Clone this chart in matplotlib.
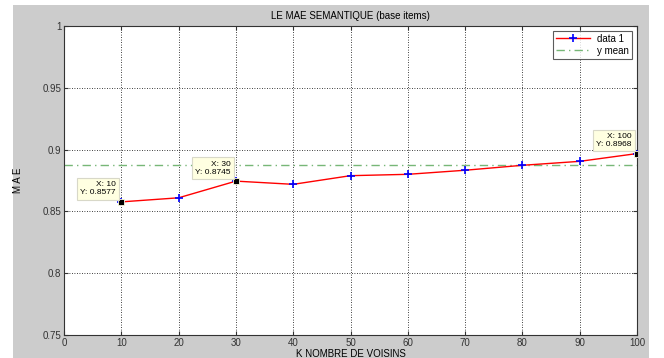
import matplotlib
matplotlib.use('Agg')
import matplotlib.pyplot as plt
from matplotlib.patches import Rectangle

# values
k_voisins = [10, 20, 30, 40, 50, 60, 70, 80, 90, 100]
mae = [0.8577, 0.8610, 0.8745, 0.8719, 0.8789, 0.8800, 0.8833, 0.8873, 0.8905, 0.8968]
y_mean = 0.8875
tips = [10, 30, 100]   # points that carry a data tip
xticks = list(range(0, 101, 10))
yticks = [0.75, 0.8, 0.85, 0.9, 0.95, 1]

plt.rcParams['font.family'] = ['Liberation Sans', 'DejaVu Sans']
plt.rcParams['font.size'] = 7

W, H = 664, 358
fig = plt.figure(figsize=(W/100, H/100), dpi=100, facecolor='white')
# grey window area behind the axes
fig.patches.append(Rectangle((13/W, 0), (649-13)/W, (H-5)/H, transform=fig.transFigure,
                             facecolor='#cccccc', edgecolor='none', zorder=-10))

ax = fig.add_axes([64/W, 1-335/H, (637-64)/W, (335-26)/H])
ax.set_facecolor('white')

ax.plot(k_voisins, mae, color='red', lw=1, marker='+', mec='blue', mew=1.2, ms=6,
        label='data 1', zorder=3)
ax.axhline(y_mean, color='#77b777', lw=1, ls=(0, (6, 3, 1, 3)), label='y mean', zorder=2)

for k in tips:
    v = mae[k_voisins.index(k)]
    ax.plot(k, v, 's', color='black', ms=5, mec='#ffffe1', mew=0.6, zorder=5)
    ax.annotate('X: {0}\nY: {1:.4f}'.format(k, v), xy=(k, v), xytext=(-4, 4),
                textcoords='offset points', ha='right', va='bottom', fontsize=6,
                linespacing=1.2,
                bbox=dict(boxstyle='square,pad=0.4', fc='#ffffe1', ec='#d8d8c8', lw=0.8),
                zorder=6)

ax.set_xlim(0, 100)
ax.set_ylim(0.75, 1)
ax.set_xticks(xticks)
ax.set_yticks(yticks)
ax.set_yticklabels(['0.75', '0.8', '0.85', '0.9', '0.95', '1'])
ax.tick_params(direction='in', length=3, top=True, right=True, labelsize=7,
               colors='#333333', pad=2)
ax.grid(True, color='black', ls=(0, (1, 2)), lw=0.6)
for s in ax.spines.values():
    s.set_color('#333333')
    s.set_linewidth(0.8)

ax.set_title('LE MAE SEMANTIQUE (base items)', fontsize=7, pad=5)
ax.set_xlabel('K NOMBRE DE VOISINS', fontsize=7, labelpad=1)
ax.set_ylabel('M A E', fontsize=7, labelpad=14)

leg = ax.legend(loc='upper right', fontsize=7, frameon=True, fancybox=False,
                borderaxespad=0.5, handlelength=3.5, borderpad=0.3, labelspacing=0.2)
leg.get_frame().set_edgecolor('#333333')
leg.get_frame().set_linewidth(0.8)

fig.savefig('out.png', dpi=100, facecolor=fig.get_facecolor())
